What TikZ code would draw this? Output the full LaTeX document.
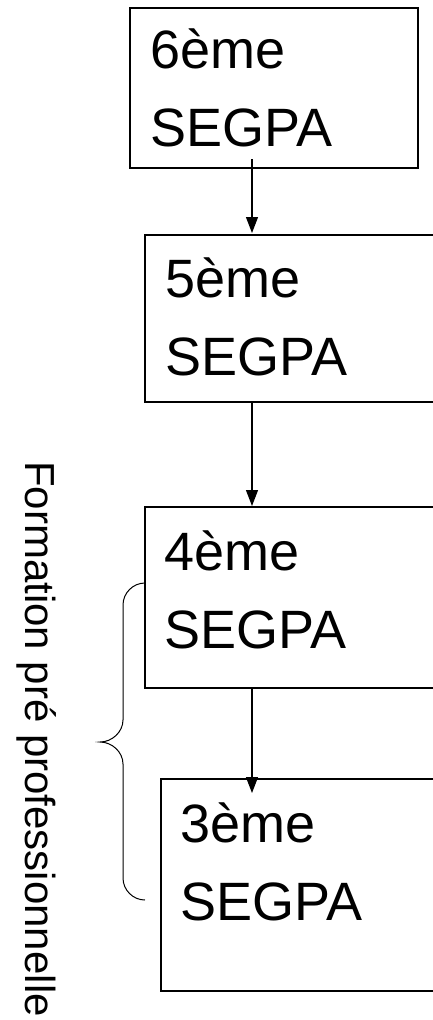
\documentclass[tikz,border=0pt]{standalone}
\usepackage{fontspec}
\setmainfont{Liberation Sans}
\usetikzlibrary{arrows.meta}

\begin{document}
\begin{tikzpicture}
  [x=1pt,y=-1pt,
  box/.style={rectangle,draw=black,line width=1.5pt,anchor=north west,
                  outer sep=0,inner sep=0},
  lbl/.style={anchor=base west,align=left,inner sep=0,
                  font=\fontsize{54}{78}\selectfont},
  side/.style={anchor=base,rotate=-90,inner sep=0,
                  font=\fontsize{42}{50}\selectfont},
  flow/.style={draw=black,line width=1.2pt,-{Triangle[length=16pt,width=12pt]}}
                  ]
  \useasboundingbox (0,0) rectangle (432,1020);

  \node[box,minimum width=288pt,minimum height=160pt] (box6) at (130,8) {};
  \node[box,minimum width=289pt,minimum height=167pt] (box5) at (145,235) {};
  \node[box,minimum width=289pt,minimum height=181pt] (box4) at (145,507) {};
  \node[box,minimum width=289pt,minimum height=212pt] (box3) at (161,779) {};
  \node[lbl] (lbl6) at ([xshift=20pt,yshift=-138pt]box6.north west) {6ème\\SEGPA};
  \node[lbl] (lbl5) at ([xshift=20pt,yshift=-140pt]box5.north west) {5ème\\SEGPA};
  \node[lbl] (lbl4) at ([xshift=19pt,yshift=-141pt]box4.north west) {4ème\\SEGPA};
  \node[lbl] (lbl3) at ([xshift=19pt,yshift=-141pt]box3.north west) {3ème\\SEGPA};
  \node[side] (prepro) at (25,739) {Formation pré professionnelle};
  \draw[flow] ([xshift=122pt,yshift=9pt]box6.south west) to ([xshift=107pt,yshift=2pt]box5.north west);
  \draw[flow] ([xshift=107pt]box5.south west) to ([xshift=107pt,yshift=1pt]box4.north west);
  \draw[flow] ([xshift=107pt]box4.south west) to ([xshift=91pt,yshift=-14pt]box3.north west);
  \draw[line width=1pt] (145,583) .. controls (133,583) and (123,593) .. (123,605)
    -- (123,720) .. controls (123,732) and (112,742) .. (100,742)
    .. controls (112,742) and (123,752) .. (123,764)
    -- (123,878) .. controls (123,890) and (133,900) .. (145,900);
\end{tikzpicture}
\end{document}
